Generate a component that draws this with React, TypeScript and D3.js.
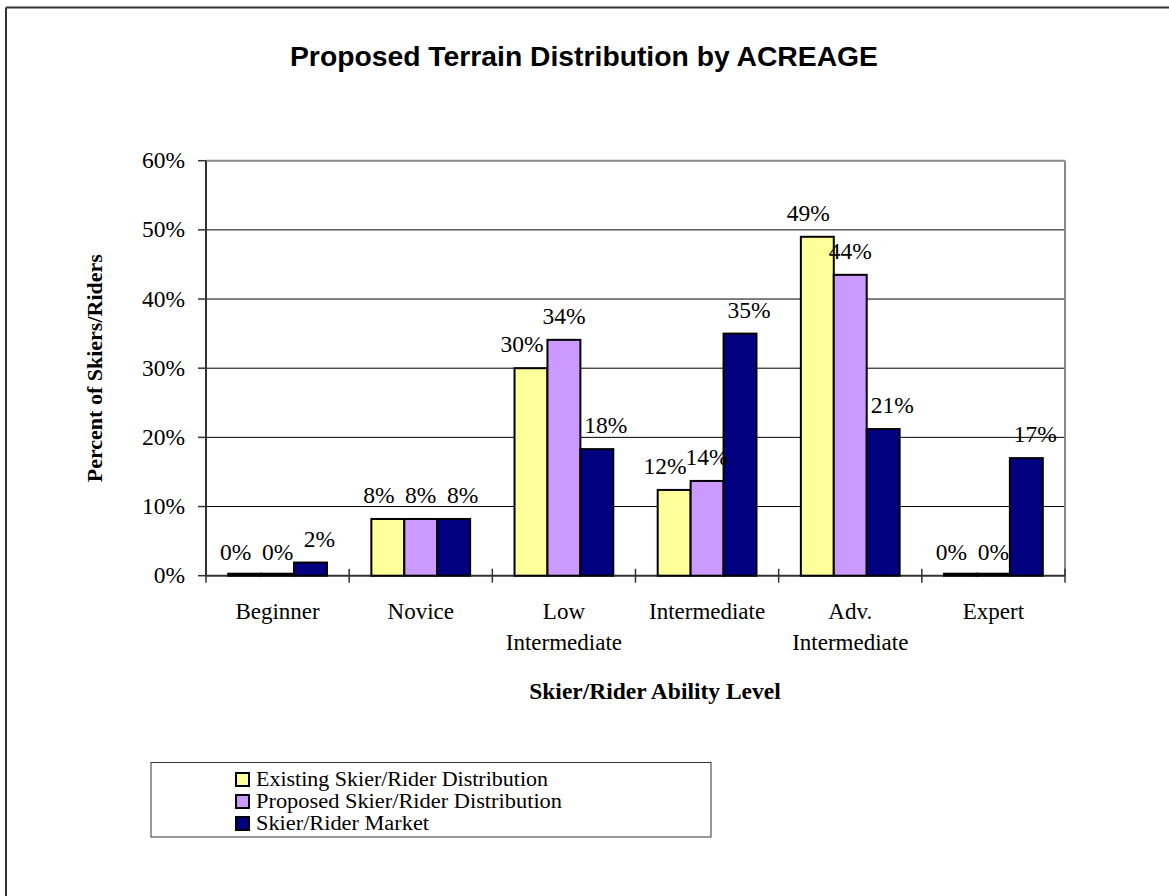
import React from "react";
import * as d3 from "d3";

const categories = [
  ["Beginner"],
  ["Novice"],
  ["Low", "Intermediate"],
  ["Intermediate"],
  ["Adv.", "Intermediate"],
  ["Expert"],
];
const seriesNames = [
  "Existing Skier/Rider Distribution",
  "Proposed Skier/Rider Distribution",
  "Skier/Rider Market",
];
const seriesColors = ["#FFFF99", "#CC99FF", "#000080"];
const existing = [0, 0.082, 0.3, 0.124, 0.49, 0];
const proposed = [0, 0.082, 0.341, 0.137, 0.435, 0];
const market = [0.019, 0.082, 0.183, 0.35, 0.212, 0.17];
const yTicks = [0, 0.1, 0.2, 0.3, 0.4, 0.5, 0.6];

const W = 1169;
const H = 896;
const plot = { left: 206, right: 1065, top: 160.7, bottom: 575.7 };
const serif = "'Liberation Serif', 'Times New Roman', serif";
const sans = "'Liberation Sans', Arial, sans-serif";

export default function App() {
  const series = [existing, proposed, market];
  const keys = categories.map((c) => c.join(" "));
  const x = d3
    .scaleBand<string>()
    .domain(keys)
    .range([plot.left, plot.right])
    .paddingInner(0.31)
    .paddingOuter(0.155);
  const xs = d3
    .scaleBand<number>()
    .domain([0, 1, 2])
    .range([0, x.bandwidth()]);
  const y = d3.scaleLinear().domain([0, 0.6]).range([plot.bottom, plot.top]);
  const pct = d3.format(".0%");
  const step = x.step();

  return (
    <svg
      width={W}
      height={H}
      style={{ position: "absolute", left: 0, top: 0, background: "#fff" }}
    >
      <rect x={0} y={0} width={W} height={H} fill="#fff" />
      {/* outer frame (top, left visible) */}
      <line x1={6} y1={7.5} x2={W} y2={7.5} stroke="#333" strokeWidth={2} />
      <line x1={6} y1={7.5} x2={6} y2={H} stroke="#333" strokeWidth={2} />

      <text
        x={584}
        y={66}
        textAnchor="middle"
        fontFamily={sans}
        fontWeight="bold"
        fontSize={27}
        textLength={588}
        lengthAdjust="spacingAndGlyphs"
      >
        Proposed Terrain Distribution by ACREAGE
      </text>

      {/* gridlines */}
      {yTicks.slice(1, -1).map((t) => (
        <line
          key={t}
          x1={plot.left}
          x2={plot.right}
          y1={y(t)}
          y2={y(t)}
          stroke="#000"
          strokeWidth={1}
        />
      ))}
      {/* plot border top & right */}
      <line x1={plot.left} x2={plot.right} y1={plot.top} y2={plot.top} stroke="#888" strokeWidth={2} />
      <line x1={plot.right} x2={plot.right} y1={plot.top} y2={plot.bottom} stroke="#888" strokeWidth={2} />

      {/* axes */}
      <line x1={plot.left} x2={plot.left} y1={plot.top} y2={plot.bottom} stroke="#333" strokeWidth={2} />
      <line x1={plot.left} x2={plot.right} y1={plot.bottom} y2={plot.bottom} stroke="#333" strokeWidth={2} />

      {/* bars */}
      {series.map((vals, si) =>
        vals.map((v, ci) => {
          const bx = (x(keys[ci]) as number) + (xs(si) as number);
          const h = Math.max(2, plot.bottom - y(v));
          return (
            <rect
              key={`${si}-${ci}`}
              x={bx}
              y={plot.bottom - h}
              width={xs.bandwidth()}
              height={h}
              fill={v === 0 ? "#000" : seriesColors[si]}
              stroke="#000"
              strokeWidth={2}
            />
          );
        })
      )}

      {/* data labels */}
      {series.map((vals, si) =>
        vals.map((v, ci) => {
          const cx =
            (x(keys[ci]) as number) +
            (xs(si) as number) +
            xs.bandwidth() / 2 +
            (si - 1) * 9;
          return (
            <text
              key={`l${si}-${ci}`}
              x={cx}
              y={y(v) - 16}
              textAnchor="middle"
              fontFamily={serif}
              fontSize={23.5}
            >
              {pct(v)}
            </text>
          );
        })
      )}

      {yTicks.map((t) => (
        <g key={`yt${t}`}>
          <line x1={plot.left - 8} x2={plot.left} y1={y(t)} y2={y(t)} stroke="#333" strokeWidth={1.5} />
          <text
            x={plot.left - 21}
            y={y(t) + 7.5}
            textAnchor="end"
            fontFamily={serif}
            fontSize={23.5}
          >
            {pct(t)}
          </text>
        </g>
      ))}
      {d3.range(keys.length + 1).map((i) => (
        <line
          key={`xt${i}`}
          x1={plot.left + i * step}
          x2={plot.left + i * step}
          y1={plot.bottom - 7}
          y2={plot.bottom + 7}
          stroke="#333"
          strokeWidth={1.5}
        />
      ))}
      {categories.map((lines, ci) => {
        const cx = (x(keys[ci]) as number) + x.bandwidth() / 2;
        return (
          <text
            key={`xc${ci}`}
            x={cx}
            y={619}
            textAnchor="middle"
            fontFamily={serif}
            fontSize={23}
          >
            {lines.map((ln, li) => (
              <tspan key={li} x={cx} dy={li === 0 ? 0 : 31}>
                {ln}
              </tspan>
            ))}
          </text>
        );
      })}

      <text
        x={655}
        y={699}
        textAnchor="middle"
        fontFamily={serif}
        fontWeight="bold"
        fontSize={23.5}
      >
        Skier/Rider Ability Level
      </text>
      <text
        transform={`translate(102, ${(plot.top + plot.bottom) / 2}) rotate(-90)`}
        textAnchor="middle"
        fontFamily={serif}
        fontWeight="bold"
        fontSize={22}
      >
        Percent of Skiers/Riders
      </text>

      {/* legend */}
      <rect x={151} y={762.5} width={560} height={74.5} fill="#fff" stroke="#333" strokeWidth={1} />
      {seriesNames.map((name, i) => (
        <g key={name}>
          <rect
            x={236}
            y={773 + i * 22}
            width={13}
            height={13}
            fill={seriesColors[i]}
            stroke="#000"
            strokeWidth={2}
          />
          <text
            x={256}
            y={786 + i * 22}
            fontFamily={serif}
            fontSize={20}
            textLength={[292, 306, 173][i]}
            lengthAdjust="spacingAndGlyphs"
          >
            {name}
          </text>
        </g>
      ))}
    </svg>
  );
}
